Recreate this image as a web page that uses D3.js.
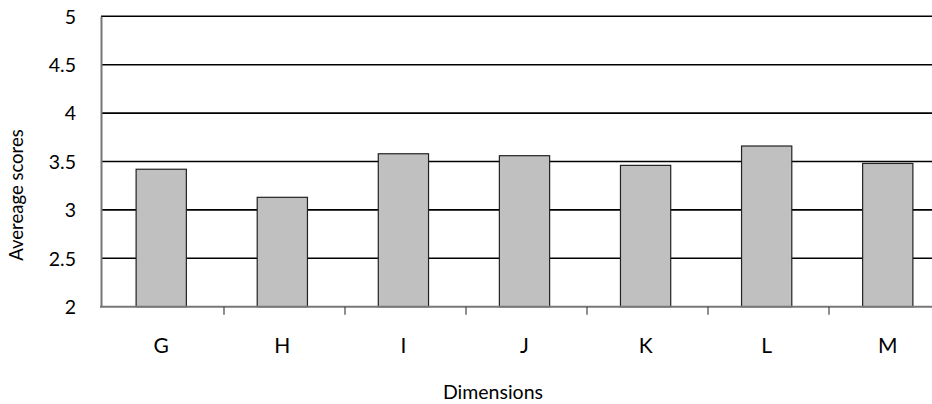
<!DOCTYPE html>
<html><head><meta charset="utf-8">
<script src="https://cdn.jsdelivr.net/npm/d3@7"></script>
<style>body{margin:0;background:#fff}svg{display:block}text{font-family:Lato,"Open Sans",sans-serif;fill:#000}</style>
</head><body>
<svg id="c" width="932" height="404"></svg>
<script>
const categories = ["G","H","I","J","K","L","M"];
const values = [3.42, 3.13, 3.58, 3.56, 3.46, 3.66, 3.48];
const yTicks = [2, 2.5, 3, 3.5, 4, 4.5, 5];
const yTickLabels = ["2","2.5","3","3.5","4","4.5","5"];
const xTitle = "Dimensions";
const yTitle = "Avereage scores";

const svg = d3.select("#c");
const x = d3.scaleBand().domain(categories).range([101, 948]).paddingInner(0.585).paddingOuter(0.29);
const y = d3.scaleLinear().domain([2, 5]).range([306.7, 16.3]);

// gridlines
svg.append("g").selectAll("line").data(yTicks.filter(d => d > 2)).join("line")
  .attr("x1", 101).attr("x2", 932)
  .attr("y1", d => y(d)).attr("y2", d => y(d))
  .attr("stroke", "#000").attr("stroke-width", 1.6);

// bars
svg.append("g").selectAll("rect").data(values).join("rect")
  .attr("x", (d, i) => x(categories[i]))
  .attr("width", x.bandwidth())
  .attr("y", d => y(d))
  .attr("height", d => y(2) - y(d))
  .attr("fill", "#c0c0c0").attr("stroke", "#222").attr("stroke-width", 1.2);

// left axis
const yAxis = d3.axisLeft(y).tickValues(yTicks).tickFormat((d, i) => yTickLabels[i]).tickSize(0).tickPadding(25);
const gy = svg.append("g").attr("transform", "translate(101,0)").call(yAxis);
gy.select(".domain").attr("stroke", "#777").attr("stroke-width", 2);
gy.selectAll("text").attr("font-size", 19.5).attr("font-family", "Lato, sans-serif").attr("dy", "0.35em");

// bottom axis
const xb = d3.scaleLinear().domain([0, 7]).range([101, 948]);
const gx = svg.append("g").attr("transform", "translate(0,306.7)");
gx.append("line").attr("x1", 100).attr("x2", 932).attr("y1", 0).attr("y2", 0).attr("stroke", "#777").attr("stroke-width", 2);
gx.selectAll("line.t").data(d3.range(1, 7)).join("line").attr("class", "t")
  .attr("x1", d => xb(d) + 2).attr("x2", d => xb(d) + 2).attr("y1", 0).attr("y2", 8)
  .attr("stroke", "#444").attr("stroke-width", 1.2);
gx.selectAll("text").data(categories).join("text")
  .attr("x", d => x(d) + x.bandwidth() / 2).attr("y", 46.5)
  .attr("text-anchor", "middle").attr("font-size", 21).text(d => d);

// titles
svg.append("text").attr("x", 493).attr("y", 399).attr("text-anchor", "middle").attr("font-size", 19.5).text(xTitle);
svg.append("text").attr("transform", "translate(23,195) rotate(-90)").attr("text-anchor", "middle").attr("font-size", 18.5).text(yTitle);
</script>
</body></html>
